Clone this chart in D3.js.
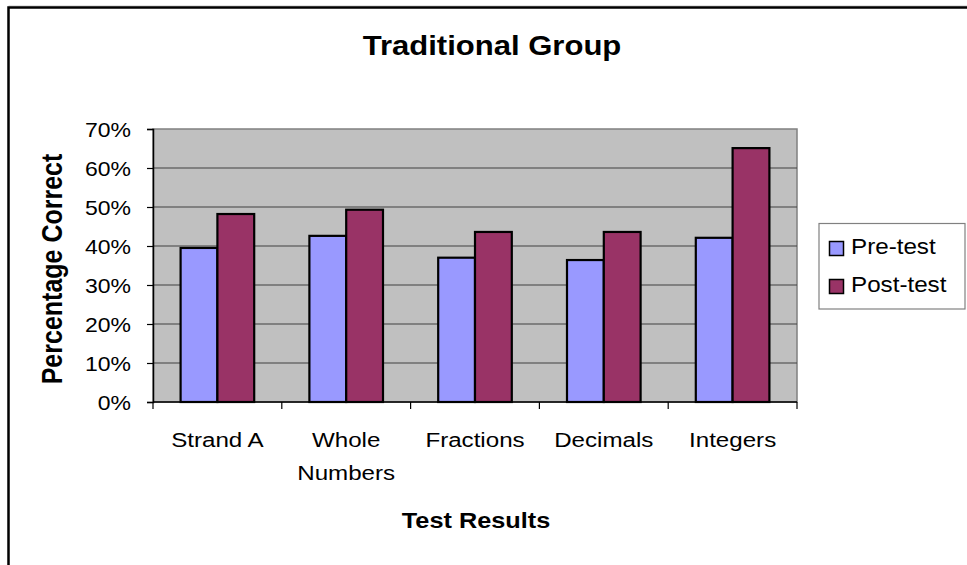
<!DOCTYPE html>
<html><head><meta charset="utf-8">
<script src="https://cdn.jsdelivr.net/npm/d3@7"></script>
<style>
html,body{margin:0;padding:0;background:#fff;}
text{font-family:"Liberation Sans",Arial,sans-serif;}
</style></head>
<body><svg id="c" width="967" height="565"></svg>
<script>
const categories = ["Strand A", "Whole Numbers", "Fractions", "Decimals", "Integers"];
const categoryLines = [["Strand A"], ["Whole", "Numbers"], ["Fractions"], ["Decimals"], ["Integers"]];
const seriesNames = ["Pre-test", "Post-test"];
const preTest = [0.395, 0.426, 0.370, 0.364, 0.421];
const postTest = [0.482, 0.493, 0.436, 0.436, 0.651];
const yTicks = [0, 0.1, 0.2, 0.3, 0.4, 0.5, 0.6, 0.7];
const colors = ["#9999FF", "#993366"];

const svg = d3.select("#c");
const sx = 1.15;
const plot = {l: 153, r: 797, t: 129, b: 402};

// outer frame
svg.append("line").attr("x1", 8.5).attr("x2", 967).attr("y1", 6).attr("y2", 6).attr("stroke", "#c8c8c8").attr("stroke-width", 1);
svg.append("path").attr("d", "M8.5,565V7.5H967").attr("fill", "none").attr("stroke", "#000").attr("stroke-width", 2.5);

// title
svg.append("text").attr("transform", `translate(492,55) scale(${sx},1)`).attr("text-anchor", "middle")
  .attr("font-weight", "bold").attr("font-size", 27).text("Traditional Group");

const x = d3.scaleBand().domain(categories).range([plot.l, plot.r]).paddingInner(0).paddingOuter(0);
const y = d3.scaleLinear().domain([0, 0.7]).range([plot.b, plot.t]);

// plot area
svg.append("rect").attr("x", plot.l).attr("y", plot.t).attr("width", plot.r - plot.l).attr("height", plot.b - plot.t)
  .attr("fill", "#C0C0C0").attr("stroke", "#808080").attr("stroke-width", 1.5);

// gridlines
svg.append("g").selectAll("line").data(yTicks.slice(1, -1)).join("line")
  .attr("x1", plot.l).attr("x2", plot.r).attr("y1", d => y(d)).attr("y2", d => y(d))
  .attr("stroke", "#404040").attr("stroke-width", 1.2);

// bars
const slot = x.bandwidth() / 3.5;
const sub = d3.scaleBand().domain(seriesNames).range([0, slot * 2]);
const data = categories.map((c, i) => ({c, v: [preTest[i], postTest[i]]}));
const g = svg.append("g").selectAll("g").data(data).join("g")
  .attr("transform", d => `translate(${x(d.c) + slot * 0.75},0)`);
g.selectAll("rect").data(d => d.v.map((v, j) => ({v, j}))).join("rect")
  .attr("x", d => sub(seriesNames[d.j])).attr("width", sub.bandwidth())
  .attr("y", d => y(d.v)).attr("height", d => y(0) - y(d.v))
  .attr("fill", d => colors[d.j]).attr("stroke", "#000").attr("stroke-width", 2.2);

// y axis
const ya = svg.append("g").attr("transform", `translate(${plot.l},0)`)
  .call(d3.axisLeft(y).tickValues(yTicks).tickFormat(d3.format(".0%")).tickSize(6).tickPadding(16));
ya.select(".domain").attr("stroke", "#000").attr("stroke-width", 1.5);
ya.selectAll(".tick line").attr("stroke", "#000").attr("stroke-width", 1.2);
ya.selectAll(".tick text").attr("font-size", 20).attr("fill", "#000").attr("font-family", null)
  .attr("transform", function(){ const xx = +d3.select(this).attr("x"); return `translate(${xx*(1-sx)},0) scale(${sx},1)`; })
  .attr("dy", "0.36em");

// x axis
const xa = svg.append("g").attr("transform", `translate(0,${plot.b})`);
xa.append("line").attr("x1", plot.l).attr("x2", plot.r).attr("stroke", "#000").attr("stroke-width", 1.5);
const bounds = categories.map(c => x(c)).concat([plot.r]);
xa.selectAll("line.tk").data(bounds).join("line").attr("class", "tk")
  .attr("x1", d => d).attr("x2", d => d).attr("y1", 0).attr("y2", 7).attr("stroke", "#000").attr("stroke-width", 1.2);
xa.selectAll("text.cat").data(categories).join("text").attr("class", "cat")
  .attr("transform", d => `translate(${x(d) + x.bandwidth() / 2},45) scale(${sx},1)`)
  .attr("text-anchor", "middle").attr("font-size", 21)
  .each(function(d, i){
    const t = d3.select(this);
    categoryLines[i].forEach((ln, k) => t.append("tspan").attr("x", 0).attr("y", k * 33).text(ln));
  });

// axis titles
svg.append("text").attr("transform", `translate(476,528) scale(${sx},1)`).attr("text-anchor", "middle")
  .attr("font-weight", "bold").attr("font-size", 22).text("Test Results");
svg.append("text").attr("transform", `translate(62,269) scale(${sx},1) rotate(-90)`).attr("text-anchor", "middle")
  .attr("font-weight", "bold").attr("font-size", 25).text("Percentage Correct");

// legend
const lg = svg.append("g");
lg.append("rect").attr("x", 819).attr("y", 223.5).attr("width", 146).attr("height", 85.5)
  .attr("fill", "#fff").attr("stroke", "#808080").attr("stroke-width", 1.2);
const li = lg.selectAll("g").data(seriesNames).join("g").attr("transform", (d, i) => `translate(0,${i * 38})`);
li.append("rect").attr("x", 829.5).attr("y", 241.5).attr("width", 14).attr("height", 14)
  .attr("fill", (d, i) => colors[i]).attr("stroke", "#000").attr("stroke-width", 1.5);
li.append("text").attr("transform", `translate(851,254) scale(1.1,1)`).attr("font-size", 22).text(d => d);
</script></body></html>
